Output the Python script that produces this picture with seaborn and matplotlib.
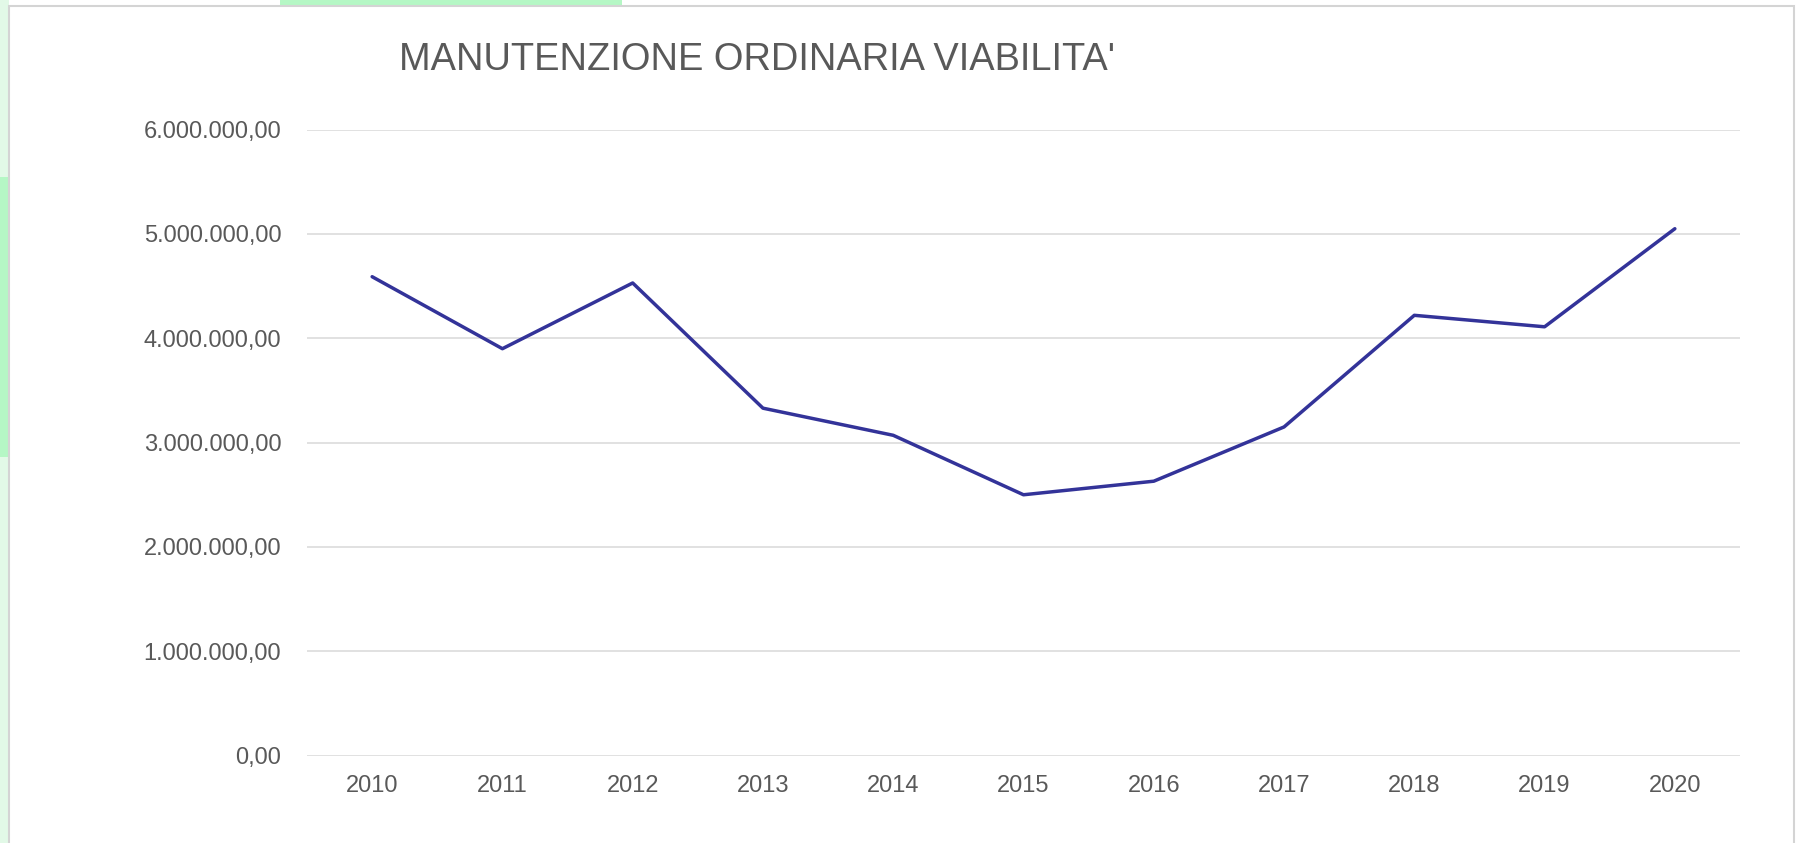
import matplotlib
matplotlib.use("Agg")
import matplotlib.pyplot as plt
import matplotlib.ticker as mticker
from matplotlib.patches import Rectangle
import seaborn as sns
import pandas as pd

years = ["2010", "2011", "2012", "2013", "2014", "2015", "2016", "2017", "2018", "2019", "2020"]
values = [4590000, 3900000, 4530000, 3330000, 3070000, 2500000, 2630000, 3150000, 4220000, 4110000, 5050000]
title = "MANUTENZIONE ORDINARIA VIABILITA'"

sns.set_theme(style="white")
plt.rcParams['font.family'] = ['Liberation Sans', 'DejaVu Sans']

W, H = 1798, 843
fig = plt.figure(figsize=(W / 100, H / 100), dpi=100)
fig.patch.set_facecolor("white")

# background decorations outside the chart frame
fig.patches.append(Rectangle((0, 0), 9 / W, 1, transform=fig.transFigure,
                             facecolor="#E2F9E7", edgecolor="none", zorder=-3))
fig.patches.append(Rectangle((0, 1 - 457 / H), 9 / W, 280 / H, transform=fig.transFigure,
                             facecolor="#B5F7C5", edgecolor="none", zorder=-3))
fig.patches.append(Rectangle((280 / W, 1 - 6 / H), 342 / W, 6 / H, transform=fig.transFigure,
                             facecolor="#B5F7C5", edgecolor="none", zorder=-3))
# chart frame
fig.patches.append(Rectangle((9 / W, -0.01), (1793.5 - 9) / W, 1.01 - 6 / H, transform=fig.transFigure,
                             facecolor="white", edgecolor="#D4D4D4", linewidth=1.5, zorder=-2))

ax = fig.add_axes([307 / W, 1 - 755.6 / H, (1740 - 307) / W, (755.6 - 129.6) / H])
ax.set_facecolor("none")
ax.set_zorder(1)

df = pd.DataFrame({"anno": years, "valore": values})
sns.lineplot(data=df, x="anno", y="valore", ax=ax, color="#333399", linewidth=2.5, sort=False)

ax.set_xlim(-0.5, len(years) - 0.5)
ax.set_ylim(0, 6000000)
ax.yaxis.set_major_locator(mticker.MultipleLocator(1000000))

def it_fmt(v, pos):
    s = f"{v:,.2f}"
    return s.replace(",", "X").replace(".", ",").replace("X", ".")

ax.yaxis.set_major_formatter(mticker.FuncFormatter(it_fmt))
ax.grid(axis="y", color="#D9D9D9", linewidth=1.1)
ax.grid(axis="x", visible=False)
for s in ax.spines.values():
    s.set_visible(False)
ax.tick_params(axis="both", length=0, labelsize=17, labelcolor="#595959")
ax.tick_params(axis="y", pad=18.5)
ax.tick_params(axis="x", pad=14)
ax.set_xlabel("")
ax.set_ylabel("")

fig.text(757 / W, 1 - 60.5 / H, title, ha="center", va="center", fontsize=27.4, color="#595959")

fig.savefig("out.png", dpi=100)
